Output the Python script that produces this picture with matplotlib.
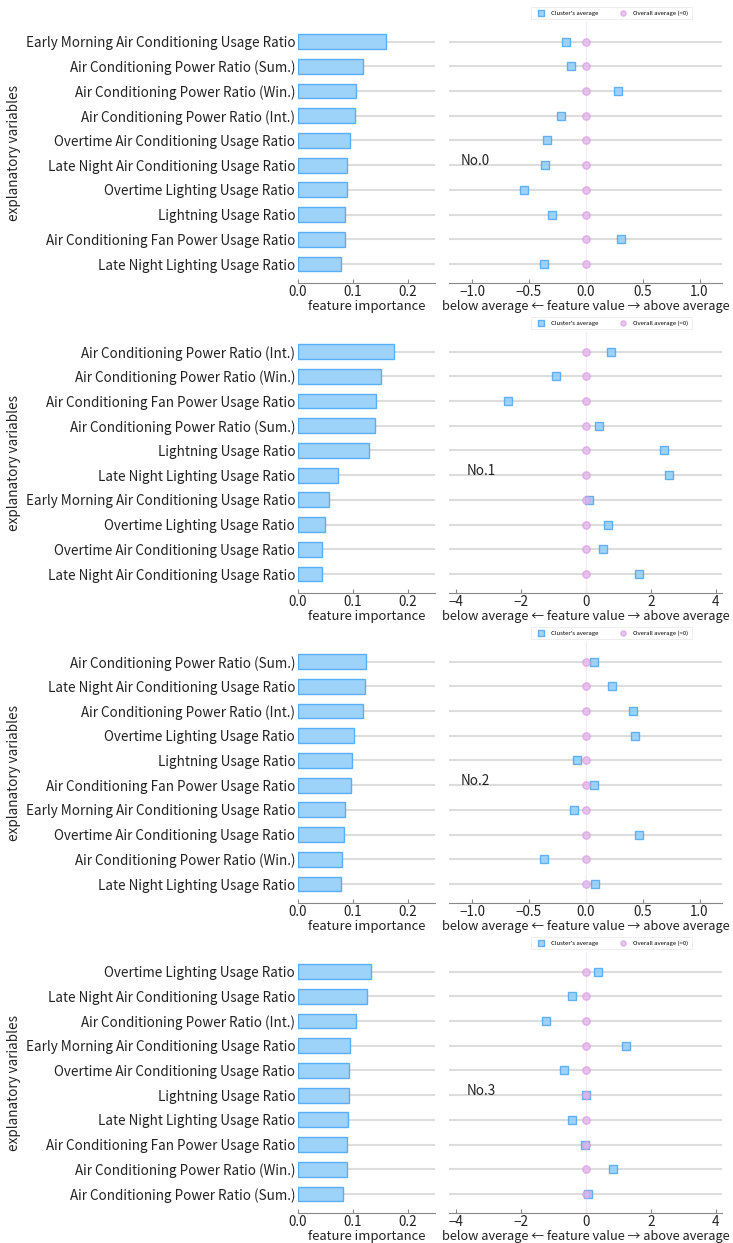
import matplotlib
matplotlib.use('Agg')
import matplotlib.pyplot as plt
import numpy as np

plt.rcParams['font.family'] = ['Noto Sans CJK JP', 'DejaVu Sans']

# feature names per cluster (top to bottom)
features_0 = ['Early Morning Air Conditioning Usage Ratio', 'Air Conditioning Power Ratio (Sum.)',
              'Air Conditioning Power Ratio (Win.)', 'Air Conditioning Power Ratio (Int.)',
              'Overtime Air Conditioning Usage Ratio', 'Late Night Air Conditioning Usage Ratio',
              'Overtime Lighting Usage Ratio', 'Lightning Usage Ratio',
              'Air Conditioning Fan Power Usage Ratio', 'Late Night Lighting Usage Ratio']
features_1 = ['Air Conditioning Power Ratio (Int.)', 'Air Conditioning Power Ratio (Win.)',
              'Air Conditioning Fan Power Usage Ratio', 'Air Conditioning Power Ratio (Sum.)',
              'Lightning Usage Ratio', 'Late Night Lighting Usage Ratio',
              'Early Morning Air Conditioning Usage Ratio', 'Overtime Lighting Usage Ratio',
              'Overtime Air Conditioning Usage Ratio', 'Late Night Air Conditioning Usage Ratio']
features_2 = ['Air Conditioning Power Ratio (Sum.)', 'Late Night Air Conditioning Usage Ratio',
              'Air Conditioning Power Ratio (Int.)', 'Overtime Lighting Usage Ratio',
              'Lightning Usage Ratio', 'Air Conditioning Fan Power Usage Ratio',
              'Early Morning Air Conditioning Usage Ratio', 'Overtime Air Conditioning Usage Ratio',
              'Air Conditioning Power Ratio (Win.)', 'Late Night Lighting Usage Ratio']
features_3 = ['Overtime Lighting Usage Ratio', 'Late Night Air Conditioning Usage Ratio',
              'Air Conditioning Power Ratio (Int.)', 'Early Morning Air Conditioning Usage Ratio',
              'Overtime Air Conditioning Usage Ratio', 'Lightning Usage Ratio',
              'Late Night Lighting Usage Ratio', 'Air Conditioning Fan Power Usage Ratio',
              'Air Conditioning Power Ratio (Win.)', 'Air Conditioning Power Ratio (Sum.)']

# feature importance
importance_0 = [0.160, 0.118, 0.105, 0.104, 0.095, 0.090, 0.089, 0.086, 0.085, 0.079]
importance_1 = [0.176, 0.152, 0.143, 0.141, 0.130, 0.073, 0.057, 0.049, 0.044, 0.043]
importance_2 = [0.124, 0.122, 0.119, 0.102, 0.099, 0.097, 0.086, 0.084, 0.080, 0.079]
importance_3 = [0.133, 0.126, 0.106, 0.095, 0.093, 0.093, 0.091, 0.090, 0.089, 0.082]

# cluster's average (standardized feature value)
cluster_avg_0 = [-0.175, -0.128, 0.285, -0.217, -0.341, -0.356, -0.543, -0.297, 0.309, -0.368]
cluster_avg_1 = [0.774, -0.908, -2.394, 0.413, 2.405, 2.56, 0.093, 0.681, 0.516, 1.63]
cluster_avg_2 = [0.071, 0.231, 0.411, 0.435, -0.074, 0.071, -0.101, 0.470, -0.364, 0.083]
cluster_avg_3 = [0.38, -0.41, -1.23, 1.24, -0.66, 0.01, -0.42, -0.01, 0.85, 0.07]

x_limits = [1.2, 4.2, 1.2, 4.2]
cluster_names = ['No.0', 'No.1', 'No.2', 'No.3']

features = [features_0, features_1, features_2, features_3]
importances = [importance_0, importance_1, importance_2, importance_3]
cluster_avgs = [cluster_avg_0, cluster_avg_1, cluster_avg_2, cluster_avg_3]

W, H = 733, 1243
fig = plt.figure(figsize=(W / 100, H / 100), dpi=100)

fs = 9.7
text_col = '#222222'
grid_col = '#dddddd'
spine_col = '#888888'

for k in range(4):
    top = 22.4 + 310 * k
    bottom = 283.3 + 310 * k
    y0 = 1 - bottom / H
    h = (bottom - top) / H
    axL = fig.add_axes([298 / W, y0, 137 / W, h])
    axR = fig.add_axes([449.3 / W, y0, 273 / W, h])

    y = np.arange(len(features[k]))

    # feature importance bars
    axL.barh(y, importances[k], height=0.6, color='#9dd3f8', edgecolor='#5aaef5',
             linewidth=1, zorder=3)
    axL.set_yticks(y)
    axL.set_yticklabels(features[k], fontsize=fs, color=text_col)
    axL.set_xlim(0, 0.25)
    axL.set_xticks([0.0, 0.1, 0.2])
    axL.set_xticklabels(['0.0', '0.1', '0.2'])
    axL.set_xlabel('feature importance', fontsize=fs - 0.3, color=text_col, labelpad=1)
    axL.set_ylabel('explanatory variables', fontsize=fs, color=text_col)
    axL.yaxis.set_label_coords(-2.02, 0.5)

    # cluster's average vs overall average
    axR.scatter(cluster_avgs[k], y, marker='s', s=28, facecolor='#8fcdf7',
                edgecolor='#4da6f2', linewidth=1, alpha=0.85, zorder=3,
                label="Cluster's average")
    axR.scatter(np.zeros(len(y)), y, marker='o', s=28, facecolor='#e2b2ea',
                edgecolor='#d8a2e4', linewidth=1, alpha=0.75, zorder=4,
                label='Overall average (=0)')
    axR.axvline(0, color='#f5ebf5', linewidth=1, zorder=1)
    lim = x_limits[k]
    axR.set_xlim(-lim, lim)
    axR.set_yticks(y)
    axR.set_yticklabels([])
    axR.set_xlabel('below average \u2190 feature value \u2192 above average',
                   fontsize=9.2, color=text_col, labelpad=1)
    tx = 0.043 if lim < 2 else 0.062
    axR.text(tx, 0.4686, cluster_names[k], transform=axR.transAxes, fontsize=fs,
             color=text_col, va='center', ha='left')
    leg = axR.legend(loc='lower center', bbox_to_anchor=(0.594, 1.0), ncol=2,
                     fontsize=4.3, frameon=True, markerscale=0.7, handletextpad=0.8,
                     columnspacing=3.0, borderpad=0.6)
    leg.get_frame().set_edgecolor('#e6e6e6')
    leg.get_frame().set_linewidth(0.6)

    for ax in (axL, axR):
        ax.set_ylim(len(y) - 1 + 0.78, -0.78)
        ax.grid(axis='y', color=grid_col, linewidth=1.5, zorder=0)
        ax.grid(axis='x', visible=False)
        ax.set_axisbelow(True)
        for s in ('left', 'right', 'top'):
            ax.spines[s].set_visible(False)
        ax.spines['bottom'].set_color(spine_col)
        ax.spines['bottom'].set_linewidth(0.8)
        ax.tick_params(axis='y', length=0, pad=2)
        ax.tick_params(axis='x', length=3, color=spine_col, labelsize=fs,
                       labelcolor=text_col, pad=1, direction='in')

fig.savefig('out.png', dpi=100)
